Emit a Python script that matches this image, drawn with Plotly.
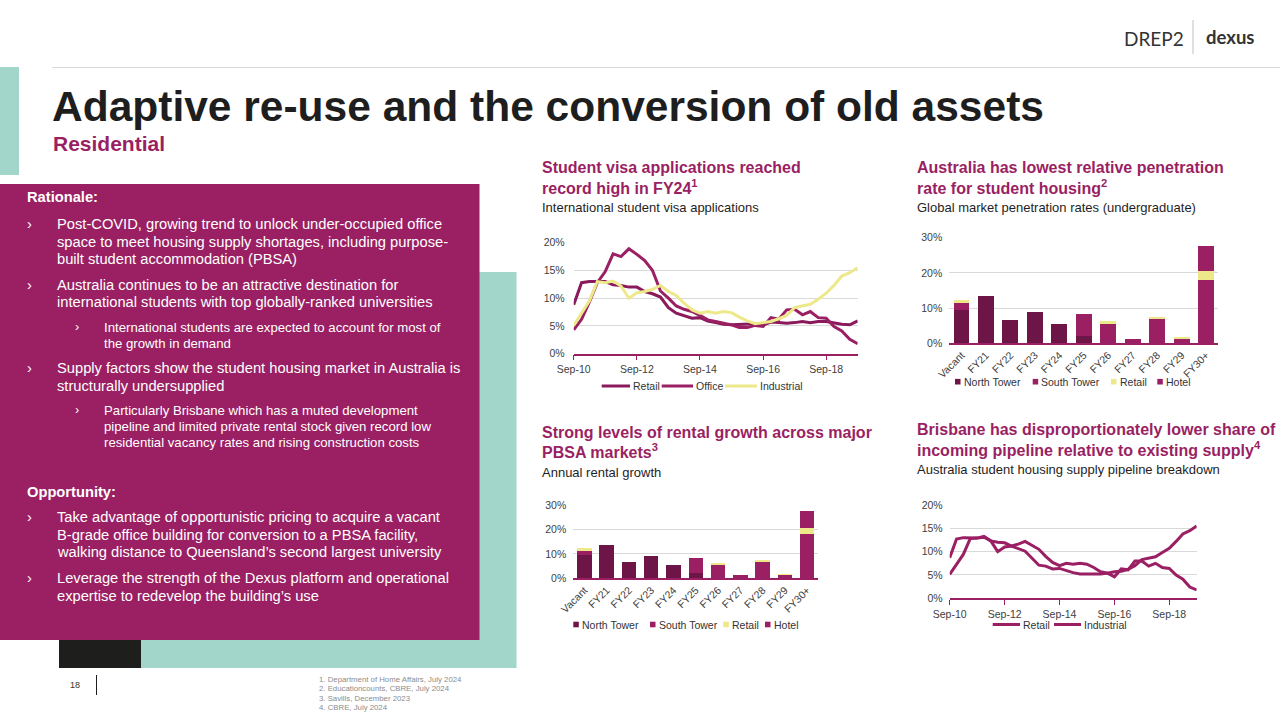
import plotly.graph_objects as go
import pandas as pd

W, H = 1280, 720
MAGENTA = "#9A1F63"
RETAIL_LINE = "#8A1A5B"
DARK = "#6E1547"
YELLOW = "#EDE98A"
TEAL = "#A2D6CB"
GRID = "#D9D9D9"
INK = "#1E1E1E"
TICK = "#404040"
FONT = "Arial, Liberation Sans, sans-serif"

# quarterly series, Sep-10 .. Sep-19
quarters = pd.date_range("2010-09-01", "2019-09-01", freq="3MS")
year_ticks = ["2010-09-01", "2012-09-01", "2014-09-01", "2016-09-01", "2018-09-01"]

visa_retail = [8.8, 12.8, 13.0, 13.0, 13.0, 12.4, 12.3, 12.0, 12.0, 11.2,
               10.8, 10.2, 8.3, 7.3, 6.9, 6.4, 6.5, 5.9, 5.6, 5.3,
               5.2, 5.3, 5.3, 5.4, 5.2, 5.7, 5.6, 5.5, 5.6, 5.8,
               5.6, 5.8, 5.8, 5.5, 5.3, 5.2, 5.9]
visa_office = [4.3, 6.2, 9.3, 12.8, 14.8, 18.0, 17.5, 18.9, 17.9, 16.8,
               15.0, 11.3, 10.0, 8.6, 8.0, 7.6, 6.9, 6.1, 5.8, 5.5,
               5.2, 4.7, 4.7, 5.1, 4.9, 6.5, 6.2, 7.9, 8.0, 7.0,
               7.6, 6.5, 6.4, 4.9, 4.1, 2.6, 1.8]
visa_industrial = [5.1, 7.3, 9.5, 13.0, 12.8, 13.1, 12.2, 10.0, 11.0, 11.2,
                   11.6, 12.3, 11.2, 10.5, 9.1, 7.9, 7.3, 7.6, 7.3, 7.6,
                   7.4, 6.6, 5.9, 5.4, 5.6, 5.8, 6.3, 6.9, 8.3, 8.6,
                   8.9, 9.8, 10.9, 12.3, 14.0, 14.6, 15.5]

pipe_retail = [8.7, 12.7, 13.0, 13.0, 12.9, 13.1, 12.3, 12.0, 11.9, 11.2,
               10.7, 10.1, 8.6, 7.1, 6.9, 6.3, 6.4, 5.9, 5.5, 5.2,
               5.2, 5.2, 5.2, 5.4, 4.6, 6.3, 6.1, 8.0, 8.0, 6.9,
               7.5, 6.6, 6.4, 5.0, 4.1, 2.4, 1.8]
pipe_industrial = [5.1, 7.2, 9.4, 12.8, 12.9, 13.3, 12.3, 10.0, 11.0, 11.2,
                   11.6, 12.2, 11.4, 10.5, 9.0, 7.7, 7.0, 7.5, 7.3, 7.5,
                   7.3, 6.6, 5.7, 5.4, 5.7, 5.8, 6.2, 7.0, 8.3, 8.6,
                   8.9, 9.8, 10.7, 12.2, 13.8, 14.5, 15.5]

bar_categories = ["Vacant", "FY21", "FY22", "FY23", "FY24", "FY25",
                  "FY26", "FY27", "FY28", "FY29", "FY30+"]
north_tower = [9.5, 13.5, 6.7, 9.0, 5.6, 2.2, 0, 0, 0, 0, 0]
south_tower = [2.0, 0, 0, 0, 0, 6.0, 5.6, 1.3, 7.0, 1.4, 18.1]
retail_bar = [0.8, 0, 0, 0, 0, 0, 0.6, 0, 0.5, 0.3, 2.5]
hotel = [0, 0, 0, 0, 0, 0, 0, 0, 0, 0, 7.1]


def fx(x):
    return x / W


def fy(y):
    return 1 - y / H


fig = go.Figure()

# top-left line chart
for name, vals, color in [("Retail", visa_retail, RETAIL_LINE),
                          ("Office", visa_office, MAGENTA),
                          ("Industrial", visa_industrial, YELLOW)]:
    fig.add_trace(go.Scatter(x=quarters, y=vals, name=name, mode="lines",
                             line=dict(color=color, width=3),
                             xaxis="x", yaxis="y", showlegend=False))

# bottom-right line chart
for name, vals, color in [("Retail", pipe_retail, MAGENTA),
                          ("Industrial", pipe_industrial, MAGENTA)]:
    fig.add_trace(go.Scatter(x=quarters, y=vals, name=name, mode="lines",
                             line=dict(color=color, width=3),
                             xaxis="x4", yaxis="y4", showlegend=False))

# the two stacked bar charts
for name, vals, color in [("North Tower", north_tower, DARK),
                          ("South Tower", south_tower, MAGENTA),
                          ("Retail", retail_bar, YELLOW),
                          ("Hotel", hotel, MAGENTA)]:
    for ax in ("2", "3"):
        fig.add_trace(go.Bar(x=bar_categories, y=vals, name=name,
                             marker=dict(color=color, line_width=0),
                             xaxis="x" + ax, yaxis="y" + ax, showlegend=False))

tick_font = dict(family=FONT, size=10.5, color=TICK)


def line_xaxis(x0, x1, anchor):
    return dict(domain=[fx(x0), fx(x1)], anchor=anchor, type="date",
                range=[quarters[0], quarters[-1]], tickvals=year_ticks,
                tickformat="%b-%y", showgrid=False, showline=True,
                linecolor=MAGENTA, linewidth=1.5, ticks="outside",
                ticklen=5, tickcolor=MAGENTA, tickwidth=1.2, tickfont=tick_font,
                automargin=False)


def pct_yaxis(y0, y1, anchor, top, step, standoff):
    return dict(domain=[fy(y0), fy(y1)], anchor=anchor, range=[0, top],
                dtick=step, ticksuffix="%", gridcolor=GRID, gridwidth=1,
                zeroline=False, showline=False, ticks="",
                ticklabelstandoff=standoff, tickfont=tick_font, automargin=False)


def bar_xaxis(x0, x1, anchor):
    return dict(domain=[fx(x0), fx(x1)], anchor=anchor, type="category",
                showgrid=False, showline=True, linecolor=MAGENTA, linewidth=1.5,
                ticks="", tickangle=-45, tickfont=tick_font, automargin=False)


annotations = []
shapes = []


def text(x, y, s, size, color=INK, xanchor="left", family=FONT):
    annotations.append(dict(x=fx(x), y=fy(y), xref="paper", yref="paper",
                            text=s, showarrow=False, xanchor=xanchor,
                            yanchor="middle", align="left",
                            font=dict(family=family, size=size, color=color)))


def rect(x0, y0, x1, y1, color):
    shapes.append(dict(type="rect", xref="paper", yref="paper", layer="below",
                       x0=fx(x0), x1=fx(x1), y0=fy(y0), y1=fy(y1),
                       fillcolor=color, line_width=0))


def hline(x0, x1, y, color, width=1):
    shapes.append(dict(type="line", xref="paper", yref="paper",
                       x0=fx(x0), x1=fx(x1), y0=fy(y), y1=fy(y),
                       line=dict(color=color, width=width)))


def vline(x, y0, y1, color, width=1):
    shapes.append(dict(type="line", xref="paper", yref="paper",
                       x0=fx(x), x1=fx(x), y0=fy(y0), y1=fy(y1),
                       line=dict(color=color, width=width)))


# background blocks
rect(0, 67, 19, 175, TEAL)
rect(59, 272, 516.5, 668, TEAL)
rect(59, 600, 141, 668, "#1E1E1C")
rect(0, 184, 479.5, 640, MAGENTA)
hline(52, 1280, 67.5, GRID)
vline(1193, 20, 54, "#BFBFBF")
vline(96.5, 675, 695, INK)

# header
text(1186, 38, "DREP2", 19, "#333333", xanchor="right", family="Lato, Arial")
text(1204, 37, "<b>dexus</b>", 18.5, "#333333", family="Lato, Arial")
text(50, 106, "<b>Adaptive re-use and the conversion of old assets</b>", 42.5, INK)
text(51, 144, "<b>Residential</b>", 21, MAGENTA)

# left panel
WHITE = "#FFFFFF"
text(25, 197.3, "<b>Rationale:</b>", 14.7, WHITE)
bullets = [
    (224, ["Post-COVID, growing trend to unlock under-occupied office",
           "space to meet housing supply shortages, including purpose-",
           "built student accommodation (PBSA)"]),
    (285, ["Australia continues to be an attractive destination for",
           "international students with top globally-ranked universities"]),
    (368.3, ["Supply factors show the student housing market in Australia is",
             "structurally undersupplied"]),
    (517.3, ["Take advantage of opportunistic pricing to acquire a vacant",
             "B-grade office building for conversion to a PBSA facility,",
             "walking distance to Queensland’s second largest university"]),
    (578.3, ["Leverage the strength of the Dexus platform and operational",
             "expertise to redevelop the building’s use"]),
]
for y, lines in bullets:
    text(25, y, "›", 14.7, WHITE)
    for i, s in enumerate(lines):
        text(54.5, y + i * 17.5, s, 14.7, WHITE)

sub_bullets = [
    (327.3, ["International students are expected to account for most of",
             "the growth in demand"]),
    (410, ["Particularly Brisbane which has a muted development",
           "pipeline and limited private rental stock given record low",
           "residential vacancy rates and rising construction costs"]),
]
for y, lines in sub_bullets:
    text(73, y, "›", 12.5, WHITE)
    for i, s in enumerate(lines):
        text(102, y + i * 16.4, s, 13.2, WHITE)
text(25, 491.7, "<b>Opportunity:</b>", 14.7, WHITE)

# footer
text(68, 685, "18", 9, "#333333")
for i, s in enumerate(["1. Department of Home Affairs, July 2024",
                       "2. Educationcounts, CBRE, July 2024",
                       "3. Savills, December 2023",
                       "4. CBRE, July 2024"]):
    text(317, 679.3 + i * 9.5, s, 7.8, "#8C8C8C")

# chart headings
heads = [
    (541.5, 167.3, ["Student visa applications reached", "record high in FY24<sup>1</sup>"],
     "International student visa applications"),
    (917, 167.3, ["Australia has lowest relative penetration", "rate for student housing<sup>2</sup>"],
     "Global market penetration rates (undergraduate)"),
    (541.5, 432, ["Strong levels of rental growth across major", "PBSA markets<sup>3</sup>"],
     "Annual rental growth"),
    (917, 429.3, ["Brisbane has disproportionately lower share of",
                  "incoming pipeline relative to existing supply<sup>4</sup>"],
     "Australia student housing supply pipeline breakdown"),
]
for x, y, lines, sub in heads:
    text(x - 2, y, "<b>" + lines[0] + "</b>", 16, MAGENTA)
    text(x - 2, y + 19.4, "<b>" + lines[1] + "</b>", 16, MAGENTA)
    text(x - 2, y + 40.5, sub, 13, INK)

# legends
LEG = 10.5


def legend_line(x0, x1, y, color, label):
    hline(x0, x1, y, color, 3)
    text(x1 + 0.5, y, label, LEG, "#333333")


def legend_box(x, y, color, label):
    shapes.append(dict(type="rect", xref="paper", yref="paper",
                       x0=fx(x), x1=fx(x + 5.5), y0=fy(y + 2.8), y1=fy(y - 2.8),
                       fillcolor=color, line_width=0))
    text(x + 6.5, y, label, LEG, "#333333")


legend_line(601.7, 630, 386, RETAIL_LINE, "Retail")
legend_line(661.7, 693, 386, MAGENTA, "Office")
legend_line(725, 757, 386, YELLOW, "Industrial")

legend_line(992.7, 1020, 624.5, MAGENTA, "Retail")
legend_line(1054, 1081, 624.5, MAGENTA, "Industrial")

for x, color, label in [(955, DARK, "North Tower"), (1032.7, MAGENTA, "South Tower"),
                        (1111, YELLOW, "Retail"), (1157.3, MAGENTA, "Hotel")]:
    legend_box(x, 381.7, color, label)
for x, color, label in [(573.3, DARK, "North Tower"), (650, MAGENTA, "South Tower"),
                        (723.3, YELLOW, "Retail"), (765, MAGENTA, "Hotel")]:
    legend_box(x, 624.5, color, label)

fig.update_layout(
    width=W, height=H, autosize=False,
    margin=dict(l=0, r=0, t=0, b=0, pad=0),
    paper_bgcolor="white", plot_bgcolor="white",
    barmode="stack", bargap=0.35,
    font=dict(family=FONT, color=INK),
    xaxis=line_xaxis(573.7, 857.7, "y"),
    yaxis=pct_yaxis(353.7, 242.7, "x", 20, 5, 8),
    xaxis2=bar_xaxis(949.3, 1218.3, "y2"),
    yaxis2=pct_yaxis(343.3, 237.7, "x2", 30, 10, 6),
    xaxis3=bar_xaxis(573.3, 818.3, "y3"),
    yaxis3=pct_yaxis(578.3, 505, "x3", 30, 10, 6),
    xaxis4=line_xaxis(949.7, 1196.7, "y4"),
    yaxis4=pct_yaxis(598.3, 505, "x4", 20, 5, 6),
    annotations=annotations,
    shapes=shapes,
)

# the page's default 8px body margin would push the slide off the window
fig.write_html("out.html", config={"displayModeBar": False},
               post_script="document.body.style.margin='0';")
